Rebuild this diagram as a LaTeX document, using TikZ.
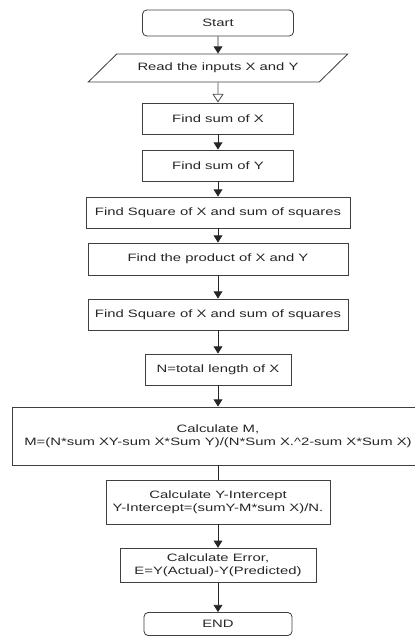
\documentclass[tikz,border=0pt]{standalone}
\usepackage{fontspec}
\setmainfont{Liberation Sans}[FakeStretch=1.39]
\usetikzlibrary{shapes.geometric,arrows.meta}

\begin{document}
\begin{tikzpicture}[
    font=\fontsize{7.6}{9}\selectfont,
    line width=0.6pt,
    blocco/.style={draw=black!75, rectangle, align=center, inner sep=1pt, text=black!85},
    termine/.style={blocco, rounded corners=3pt},
    ingresso/.style={draw=black!75, trapezium, trapezium left angle=29, trapezium right angle=151, trapezium stretches=true, inner sep=1pt, text=black!85},
    freccia/.style={-{Triangle[width=0.22cm,length=0.18cm]}, black!85},
    frecciavuota/.style={-{Triangle[open,width=0.28cm,length=0.22cm]}, black!70}
]
    \useasboundingbox (0,0) rectangle (10.35,-15.9);

    % Inizio e lettura
    \node[termine, minimum width=3.775cm, minimum height=0.65cm] (start) at (5.45,-0.575) {Start};
    \node[ingresso, minimum width=6.5cm, minimum height=0.7cm] (read) at (5.45,-1.7) {Read the inputs X and Y};

    % Somme e quadrati
    \node[blocco, minimum width=3.775cm, minimum height=0.775cm] (sumx) at (5.45,-2.9625) {Find sum of X};
    \node[blocco, minimum width=3.775cm, minimum height=0.775cm] (sumy) at (5.45,-4.1375) {Find sum of Y};
    \node[blocco, minimum width=6.6cm, minimum height=0.775cm] (sq1) at (5.45,-5.3125) {Find Square of X and sum of squares};
    \node[blocco, minimum width=6.5cm, minimum height=0.8cm] (prod) at (5.45,-6.475) {Find the product of X and Y};
    \node[blocco, minimum width=6.5cm, minimum height=0.775cm] (sq2) at (5.45,-7.8625) {Find Square of X and sum of squares};
    \node[blocco, minimum width=3.65cm, minimum height=0.775cm] (len) at (5.45,-9.2375) {N=total length of X};

    % Calcoli finali
    \node[blocco, minimum width=10.3cm, minimum height=1.45cm] (calcm) at (5.45,-10.9) {Calculate M,\\M=(N*sum XY-sum X*Sum Y)/(N*Sum X.\^{}2-sum X*Sum X)};
    \node[blocco, minimum width=5.6cm, minimum height=1.1cm] (yint) at (5.45,-12.55) {Calculate Y-Intercept\\Y-Intercept=(sumY-M*sum X)/N.};
    \node[blocco, minimum width=4.9cm, minimum height=0.85cm] (err) at (5.45,-14.13) {Calculate Error,\\E=Y(Actual)-Y(Predicted)};
    \node[termine, minimum width=3.7cm, minimum height=0.575cm] (fine) at (5.45,-15.6) {END};

    % Frecce
    \draw[freccia] (start) -- (read);
    \draw[frecciavuota] (read) -- (sumx);
    \draw[freccia] (sumx) -- (sumy);
    \draw[freccia] (sumy) -- (sq1);
    \draw[freccia] (sq1) -- (prod);
    \draw[freccia] (prod) -- (sq2);
    \draw[freccia] (sq2) -- (len);
    \draw[freccia] (len) -- (calcm);
    \draw[black!85] (calcm) -- (yint);
    \draw[freccia] (yint) -- (err);
    \draw[freccia] (err) -- (fine);
\end{tikzpicture}
\end{document}
